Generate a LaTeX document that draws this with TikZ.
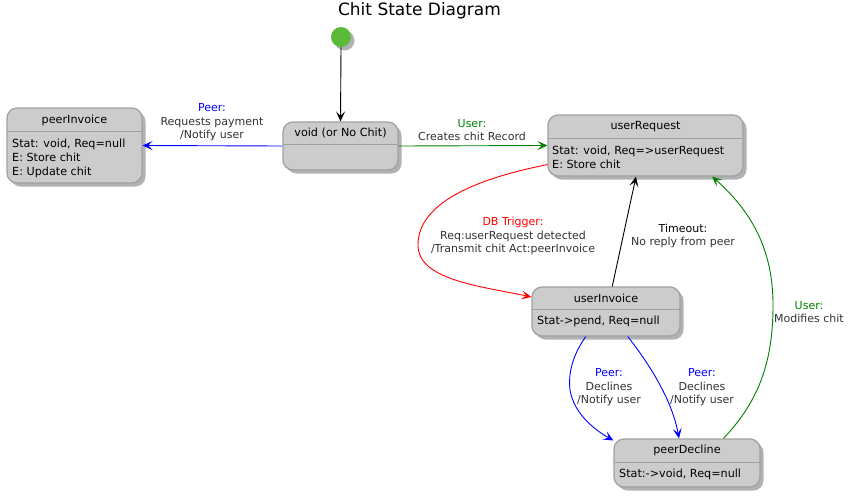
\documentclass[tikz,border=0pt]{standalone}
\usepackage{fontspec}
\setmainfont{DejaVu Sans}
\usetikzlibrary{arrows.meta,shadows}
\definecolor{boxfill}{RGB}{204,204,204}
\definecolor{boxline}{RGB}{160,160,160}
\definecolor{startgreen}{RGB}{91,186,55}
\definecolor{lbl}{RGB}{51,51,51}
\definecolor{pblue}{RGB}{0,0,255}
\definecolor{pgreen}{RGB}{0,128,0}
\definecolor{pred}{RGB}{255,0,0}
\begin{document}
\begin{tikzpicture}[x=1pt,y=-1pt,
  shad/.style={drop shadow={shadow xshift=3.5pt,shadow yshift=-3.5pt,fill=black!55,opacity=0.55}},
  statebox/.style={draw=boxline,line width=1.2pt,fill=boxfill,rounded corners=10pt,inner sep=0pt,shad},
  sttitle/.style={font=\fontsize{11.2}{14}\selectfont,inner sep=0pt,text=black},
  stbody/.style={font=\fontsize{11.2}{14}\selectfont,inner sep=0pt,anchor=west,align=left,text=black},
  lbltext/.style={font=\fontsize{11}{13.5}\selectfont,inner sep=0pt,align=center,text=lbl},
  conn/.style={line width=0.9pt,-{Stealth[length=10pt,width=9pt,inset=4.5pt]}},
  sepline/.style={draw=boxline,line width=1pt}]

\useasboundingbox (0,0) rectangle (851,501);

% title
\node[font=\fontsize{17}{20}\selectfont,inner sep=0pt] (title) at (419.5,11) {Chit State Diagram};

% start
\node[circle,fill=startgreen,minimum size=20pt,inner sep=0pt,shad] (start) at (341,37) {};

% peerInvoice
\node[statebox,minimum width=135pt,minimum height=75pt] (pinv) at (74.5,145.5) {};
\draw[sepline] (7,131) -- (142,131);
\node[sttitle] (pinvT) at (74.5,120) {peerInvoice};
\node[stbody] (pinvB) at (12,158) {Stat: void, Req=null\\E: Store chit\\E: Update chit};

% void
\node[statebox,minimum width=115pt,minimum height=48pt] (void) at (340.5,146) {};
\draw[sepline] (283,144) -- (398,144);
\node[sttitle] (voidT) at (340.5,133) {void (or No Chit)};

% userRequest
\node[statebox,minimum width=195pt,minimum height=61pt] (ureq) at (645.5,145.5) {};
\draw[sepline] (548,138) -- (743,138);
\node[sttitle] (ureqT) at (645.5,127) {userRequest};
\node[stbody] (ureqB) at (552,157.5) {Stat: void, Req=>userRequest\\E: Store chit};

% userInvoice
\node[statebox,minimum width=148pt,minimum height=49pt] (uinv) at (606,311.5) {};
\draw[sepline] (532,309) -- (680,309);
\node[sttitle] (uinvT) at (606,298) {userInvoice};
\node[stbody] (uinvB) at (537,321) {Stat->pend, Req=null};

% peerDecline
\node[statebox,minimum width=146pt,minimum height=48pt] (pdec) at (687,463) {};
\draw[sepline] (614,462) -- (760,462);
\node[sttitle] (pdecT) at (687,450) {peerDecline};
\node[stbody] (pdecB) at (619,474) {Stat:->void, Req=null};

% connectors
\draw[conn] (start.south) -- (void.north);
\draw[conn,pblue] (void.west) -- (pinv.east);
\draw[conn,pgreen] (void.east) -- (ureq.west);
\draw[conn,pred] (ureq.191) .. controls (470,180) and (418,205) .. (418,245)
   .. controls (418,280) and (480,286) .. (uinv.169);
\draw[conn] (uinv.76) -- (ureq.253);
\draw[conn,pgreen] (pdec.34) .. controls (760,400) and (773,360) .. (773,305)
   .. controls (773,250) and (752,212) .. (ureq.335.4);
\draw[conn,pblue] (uinv.231) .. controls (573,355) and (568,372) .. (570,390)
   .. controls (574,414) and (595,430) .. (pdec.163);
\draw[conn,pblue] (uinv.-49) .. controls (650,365) and (672,400) .. (pdec.108);

% labels
\node[lbltext] (l1) at (212,122.5) {\textcolor{pblue}{Peer:}\\Requests payment\\/Notify user};
\node[lbltext] (l2) at (472,130) {\textcolor{pgreen}{User:}\\Creates chit Record};
\node[lbltext] (l3) at (513,236) {\textcolor{pred}{DB Trigger:}\\Req:userRequest detected\\/Transmit chit Act:peerInvoice};
\node[lbltext] (l4) at (683,236) {\textcolor{black}{Timeout:}\\No reply from peer};
\node[lbltext] (l5) at (809,312) {\textcolor{pgreen}{User:}\\Modifies chit};
\node[lbltext] (l6) at (609,387.5) {\textcolor{pblue}{Peer:}\\Declines\\/Notify user};
\node[lbltext] (l7) at (702,387.5) {\textcolor{pblue}{Peer:}\\Declines\\/Notify user};
\end{tikzpicture}
\end{document}
